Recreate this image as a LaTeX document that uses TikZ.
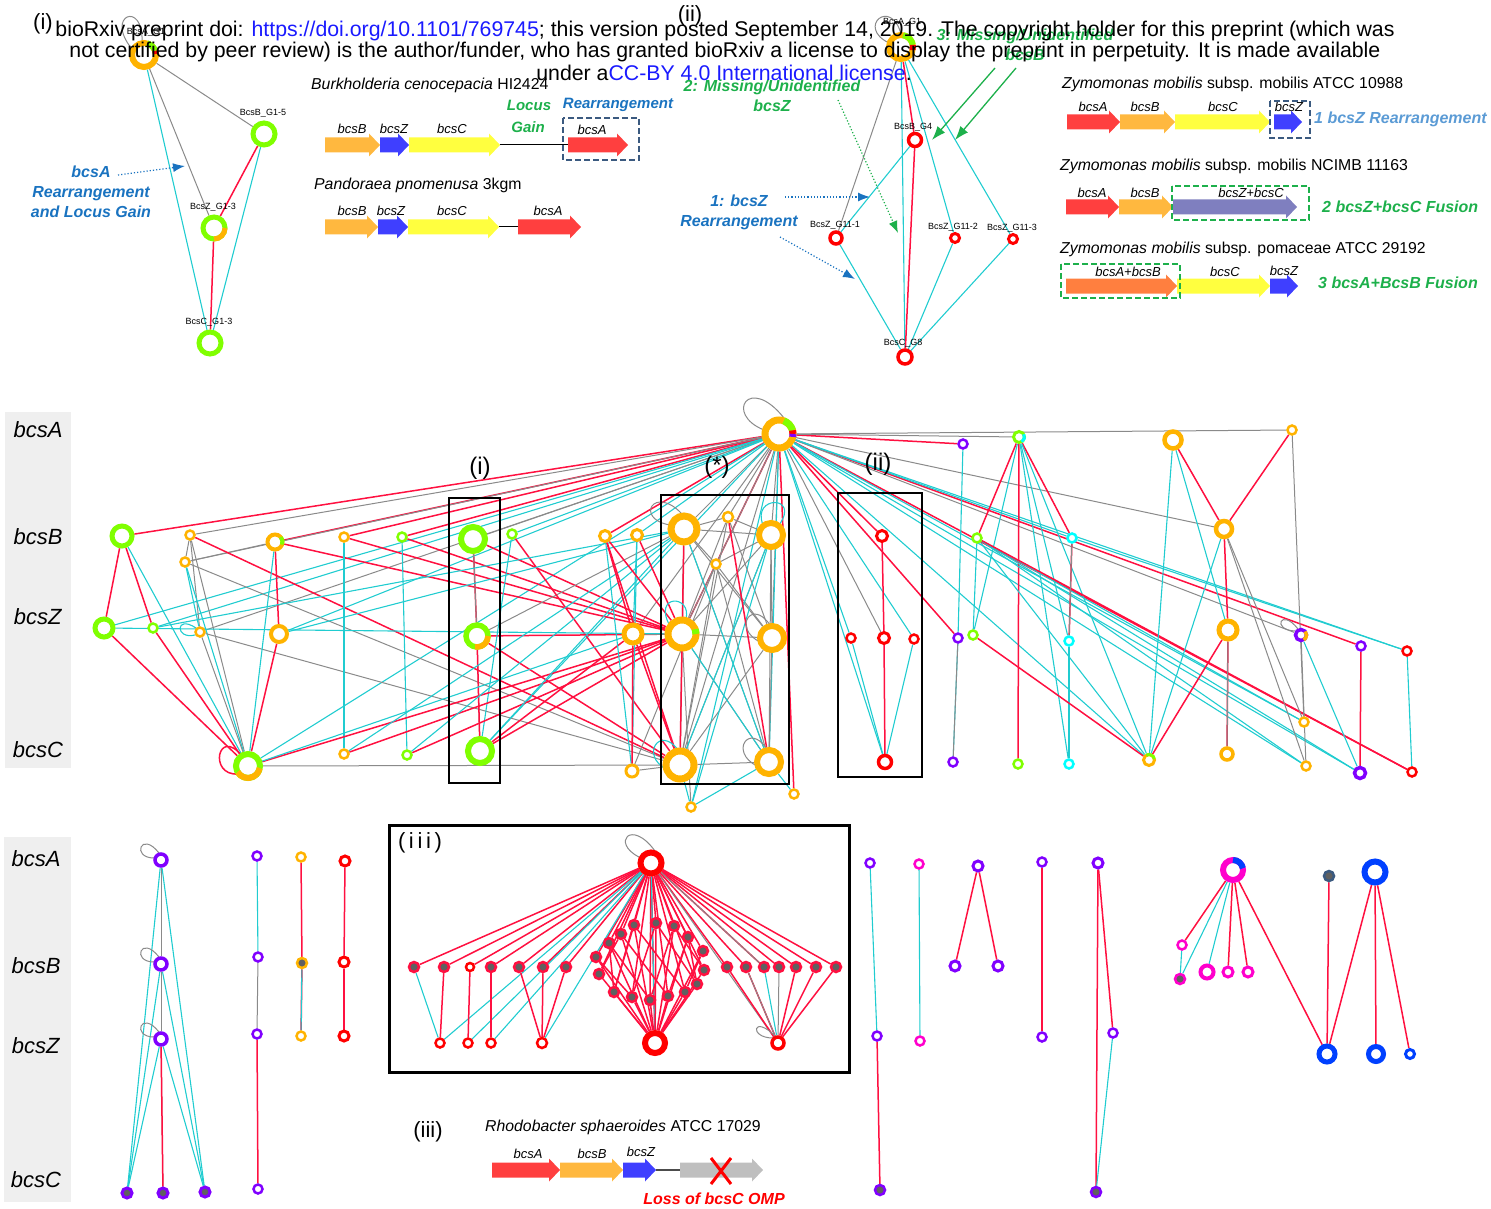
\documentclass[tikz,border=0pt]{standalone}
\usepackage{fontspec}
\setmainfont{Liberation Sans}
\usetikzlibrary{arrows.meta}
\definecolor{cOr}{HTML}{FFB300}
\definecolor{cGr}{HTML}{80FF00}
\definecolor{cRd}{HTML}{FF0000}
\definecolor{cPu}{HTML}{8000FF}
\definecolor{cCy}{HTML}{00FFFF}
\definecolor{cMa}{HTML}{FF00CC}
\definecolor{cBl}{HTML}{0040FF}
\definecolor{eRd}{HTML}{FF1040}
\definecolor{eCy}{HTML}{20CCD0}
\definecolor{eGy}{HTML}{8A8A8A}
\definecolor{gOr}{HTML}{FFB83F}
\definecolor{gBl}{HTML}{3F3FFF}
\definecolor{gYe}{HTML}{FFFF3F}
\definecolor{gRd}{HTML}{FF3F3F}
\definecolor{gPu}{HTML}{7F7FBF}
\definecolor{gOR}{HTML}{FF7F3F}
\definecolor{gGy}{HTML}{BFBFBF}
\definecolor{tBl}{HTML}{1A73C0}
\definecolor{tGr}{HTML}{1DB04B}
\definecolor{tLB}{HTML}{5B9BD5}
\definecolor{bxD}{HTML}{3B5A80}
\definecolor{lnk}{HTML}{1A1AFF}
\definecolor{panel}{HTML}{EFEFEF}
\definecolor{fillg}{HTML}{606060}
\newcommand\FS[1]{\fontsize{#1}{#1}\selectfont}
\pgfdeclarelayer{back}
\pgfdeclarelayer{bg}
\pgfsetlayers{back,bg,main}
\newcommand\rg[6]{\node[circle,draw=#5,line width=#6,fill=white,minimum size=#4,inner sep=0pt] (#1) at (#2,#3) {};}
\newcommand\fd[6]{\node[circle,draw=#5,line width=#6,fill=fillg,minimum size=#4,inner sep=0pt] (#1) at (#2,#3) {};}
\newcommand\seg[6]{\draw[#2,line width=#6] ([shift={(#3:#5pt)}]#1.center) arc (#3:#4:#5pt);}
\newcommand\lp[6]{\draw[#1] ([shift={(#3)}]#2.center) .. controls ([shift={(#4)}]#2.center) and ([shift={(#5)}]#2.center) .. ([shift={(#6)}]#2.center);}
\newcommand\gene[4]{\fill[#4] (#1,#3-7.5) -- (#2-11,#3-7.5) -- (#2-11,#3-11.5) -- (#2,#3) -- (#2-11,#3+11.5) -- (#2-11,#3+7.5) -- (#1,#3+7.5) -- cycle;}
\newcommand\E[3]{\draw[#1] (#2) -- (#3);}
\tikzset{
  er/.style={draw=eRd,line width=1.5pt},
  ec/.style={draw=eCy,line width=1.1pt},
  eg/.style={draw=eGy,line width=1pt},
  txt/.style={inner sep=0pt},
  glab/.style={inner sep=0pt,font=\FS{13}\itshape},
  tiny/.style={inner sep=0pt,font=\FS{9}},
  ann/.style={inner sep=0pt,align=center,font=\FS{16}\bfseries\itshape},
  dbox/.style={dash pattern=on 6pt off 3pt,line width=2.5pt},
  bbox/.style={draw=black,line width=1.3pt},
}
\begin{document}
\begin{tikzpicture}[x=1pt,y=-1pt]
\useasboundingbox (0,0) rectangle (1491,1209);
\begin{pgfonlayer}{back}
\fill[panel] (5,412) rectangle (71,768);
\fill[panel] (4,837) rectangle (71,1202);
\end{pgfonlayer}

% ---------------- row labels
\node[txt] (LA) at (38,430) {\FS{22}\textit{bcsA}};
\node[txt] (LB) at (38,537) {\FS{22}\textit{bcsB}};
\node[txt] (LZ) at (38,617) {\FS{22}\textit{bcsZ}};
\node[txt] (LC) at (38,750) {\FS{22}\textit{bcsC}};
\node[txt] (LA2) at (36,859) {\FS{22}\textit{bcsA}};
\node[txt] (LB2) at (36,966) {\FS{22}\textit{bcsB}};
\node[txt] (LZ2) at (36,1046) {\FS{22}\textit{bcsZ}};
\node[txt] (LC2) at (36,1180) {\FS{22}\textit{bcsC}};

% ---------------- top (i)
\node[txt] (pi) at (43,24) {\FS{22}(i)};
\rg{iA}{144}{55}{24}{cOr}{6pt}
\rg{iB}{264}{134}{22}{cGr}{5pt}
\rg{iZ}{214}{228}{22}{cGr}{5pt}
\rg{iC}{210}{343}{22}{cGr}{5pt}
\seg{iA}{cGr}{20}{75}{12}{6pt}
\seg{iA}{cRd}{5}{20}{12}{6pt}
\seg{iZ}{cOr}{-90}{0}{11}{5pt}
\node[tiny] (liA) at (146,32) {BcsA\_G1};
\node[tiny] (liB) at (263,113) {BcsB\_G1-5};
\node[tiny] (liZ) at (213,207) {BcsZ\_G1-3};
\node[tiny] (liC) at (209,322) {BcsC\_G1-3};
\node[ann,text=tBl] (annI) at (91,192) {bcsA\\[4pt]Rearrangement\\[4pt]and Locus Gain};
\coordinate (aI1) at (118,175);
\coordinate (aI2) at (185,166);

% ---------------- Burkholderia / Pandoraea
\node[txt,anchor=west] (sp1) at (311,85) {\FS{15.8}\textit{Burkholderia cenocepacia} HI2424};
\gene{325}{380}{145}{gOr}
\gene{380}{409}{145}{gBl}
\gene{409}{500}{145}{gYe}
\gene{568}{628}{145}{gRd}
\draw[line width=1pt] (500,145) -- (568,145);
\node[glab] (g1B) at (352,129) {bcsB};
\node[glab] (g1Z) at (394,129) {bcsZ};
\node[glab] (g1C) at (452,129) {bcsC};
\node[glab] (g1A) at (592,130) {bcsA};
\draw[bxD,dbox] (563,118) rectangle (639,160);
\node[txt,text=tGr] (loc1) at (529,105) {\FS{15}\bfseries\itshape Locus};
\node[txt,text=tGr] (loc2) at (528,127) {\FS{15}\bfseries\itshape Gain};
\node[txt,text=tBl] (rea1) at (618,105) {\FS{15}\bfseries\itshape Rearrangement};
\node[txt,anchor=west] (sp2) at (314,185) {\FS{15.8}\textit{Pandoraea pnomenusa} 3kgm};
\gene{325}{378}{227}{gOr}
\gene{378}{408}{227}{gBl}
\gene{408}{499}{227}{gYe}
\draw[line width=1pt] (499,227) -- (518,227);
\gene{518}{581}{227}{gRd}
\node[glab] (g2B) at (352,211) {bcsB};
\node[glab] (g2Z) at (391,211) {bcsZ};
\node[glab] (g2C) at (452,211) {bcsC};
\node[glab] (g2A) at (548,211) {bcsA};

% ---------------- top (ii)
\node[txt] (pii) at (690,16) {\FS{22}(ii)};
\rg{iiA}{901}{47}{24}{cOr}{6pt}
\seg{iiA}{cGr}{10}{80}{12}{6pt}
\seg{iiA}{cRd}{-15}{10}{12}{6pt}
\rg{iiB}{915}{140}{13}{cRd}{3.5pt}
\rg{iiZa}{836}{238}{12}{cRd}{3.5pt}
\rg{iiZb}{955}{238}{9}{cRd}{3pt}
\rg{iiZc}{1013}{239}{9}{cRd}{3pt}
\rg{iiC}{905}{357}{14}{cRd}{3.5pt}
\node[tiny] (liiA) at (902,22) {BcsA\_G1};
\node[tiny] (liiB) at (913,127) {BcsB\_G4};
\node[tiny] (liiZa) at (835,225) {BcsZ\_G11-1};
\node[tiny] (liiZb) at (953,227) {BcsZ\_G11-2};
\node[tiny] (liiZc) at (1012,228) {BcsZ\_G11-3};
\node[tiny] (liiC) at (903,343) {BcsC\_G8};
\node[ann,text=tGr] (ann3) at (1025,45) {3: Missing/Unidentified\\[4pt]bcsB};
\node[ann,text=tGr] (ann2) at (772,96) {2: Missing/Unidentified\\[4pt]bcsZ};
\node[ann,text=tBl] (ann1) at (739,212) {1: bcsZ\\[4pt]Rearrangement};
\coordinate (a3s1) at (995,68); \coordinate (a3e1) at (932,140);
\coordinate (a3s2) at (1016,68); \coordinate (a3e2) at (955,140);
\coordinate (a2s) at (838,100); \coordinate (a2e) at (898,233);
\coordinate (a1s1) at (785,197); \coordinate (a1e1) at (870,197);
\coordinate (a1s2) at (780,237); \coordinate (a1e2) at (855,279);

% ---------------- Zymomonas
\node[txt,anchor=west] (z1t) at (1062,84) {\FS{15.8}\textit{Zymomonas mobilis} subsp. mobilis ATCC 10988};
\gene{1067}{1120}{122}{gRd}
\gene{1120}{1175}{122}{gOr}
\gene{1175}{1270}{122}{gYe}
\gene{1274}{1302}{122}{gBl}
\node[glab] (z1a) at (1093,107) {bcsA};
\node[glab] (z1b) at (1145,107) {bcsB};
\node[glab] (z1c) at (1223,107) {bcsC};
\node[glab] (z1z) at (1289,107) {bcsZ};
\draw[bxD,dbox] (1270,101) rectangle (1310,138);
\node[ann,anchor=west,text=tLB] (z1r) at (1314,119) {1 bcsZ Rearrangement};
\node[txt,anchor=west] (z2t) at (1060,166) {\FS{15.8}\textit{Zymomonas mobilis} subsp. mobilis NCIMB 11163};
\gene{1066}{1119}{207}{gRd}
\gene{1119}{1173}{207}{gOr}
\gene{1173}{1297}{207}{gPu}
\node[glab] (z2a) at (1092,193) {bcsA};
\node[glab] (z2b) at (1145,193) {bcsB};
\node[glab] (z2c) at (1251,193) {bcsZ+bcsC};
\draw[tGr,dbox] (1172,186) rectangle (1309,220);
\node[ann,anchor=west,text=tGr] (z2r) at (1322,207) {2 bcsZ+bcsC Fusion};
\node[txt,anchor=west] (z3t) at (1060,249) {\FS{15.8}\textit{Zymomonas mobilis} subsp. pomaceae ATCC 29192};
\gene{1066}{1177}{286}{gOR}
\gene{1177}{1270}{286}{gYe}
\gene{1270}{1298}{286}{gBl}
\node[glab] (z3a) at (1128,272) {bcsA+bcsB};
\node[glab] (z3c) at (1225,272) {bcsC};
\node[glab] (z3z) at (1284,271) {bcsZ};
\draw[tGr,dbox] (1061,264) rectangle (1180,298);
\node[ann,anchor=west,text=tGr] (z3r) at (1318,283) {3 bcsA+BcsB Fusion};

% ---------------- middle network nodes
\rg{H}{779}{434}{28}{cOr}{7pt}
\rg{b1}{122}{536}{20}{cGr}{5pt}
\rg{b2}{190}{535}{9}{cOr}{2.5pt}
\rg{b3}{275}{542}{15}{cOr}{4pt}
\rg{b4}{344}{537}{9}{cOr}{2.5pt}
\rg{b5}{402}{537}{9}{cGr}{2.5pt}
\rg{b6}{473}{539}{24}{cGr}{6pt}
\rg{b7}{512}{534}{9}{cGr}{2.5pt}
\rg{b8}{185}{562}{9}{cOr}{2.5pt}
\rg{z1}{104}{628}{18}{cGr}{5pt}
\rg{z2}{153}{628}{9}{cGr}{2.5pt}
\rg{z3}{200}{632}{9}{cOr}{2.5pt}
\rg{z4}{279}{634}{16}{cOr}{4pt}
\rg{z5}{477}{636}{22}{cGr}{5.5pt}
\rg{c1}{248}{766}{24}{cGr}{6pt}
\rg{c2}{344}{754}{9}{cOr}{2.5pt}
\rg{c3}{407}{755}{9}{cGr}{2.5pt}
\rg{c4}{480}{751}{24}{cGr}{6pt}
\rg{s1}{605}{536}{11}{cOr}{3pt}
\rg{s2}{637}{535}{11}{cOr}{3pt}
\rg{s3}{684}{529}{26}{cOr}{7pt}
\rg{s4}{728}{517}{10}{cOr}{2.5pt}
\rg{s5}{771}{535}{24}{cOr}{6pt}
\rg{s6}{716}{564}{9}{cOr}{2.5pt}
\rg{s7}{633}{634}{18}{cOr}{5pt}
\rg{s8}{682}{634}{28}{cOr}{7pt}
\rg{s9}{772}{638}{24}{cOr}{6pt}
\rg{s10}{632}{771}{12}{cOr}{3pt}
\rg{s11}{680}{765}{28}{cOr}{7pt}
\rg{s12}{769}{762}{24}{cOr}{6pt}
\rg{s13}{691}{807}{9}{cOr}{2.5pt}
\rg{s14}{794}{794}{9}{cOr}{2.5pt}
\rg{r1}{882}{536}{11}{cRd}{3pt}
\rg{r2}{851}{638}{9}{cRd}{2.5pt}
\rg{r3}{884}{638}{11}{cRd}{3pt}
\rg{r4}{914}{639}{9}{cRd}{2.5pt}
\rg{r5}{885}{762}{13}{cRd}{3.5pt}
\rg{q1}{963}{444}{9}{cPu}{2.5pt}
\rg{q2}{1019}{437}{11}{cGr}{3pt}
\rg{q3}{1173}{440}{17}{cOr}{4.5pt}
\rg{q4}{1292}{430}{9}{cOr}{2.5pt}
\rg{q5}{977}{538}{9}{cGr}{2.5pt}
\rg{q6}{1072}{538}{9}{cCy}{2.5pt}
\rg{q7}{1224}{529}{16}{cOr}{4.5pt}
\rg{q8}{958}{638}{9}{cPu}{2.5pt}
\rg{q9}{973}{635}{9}{cGr}{2.5pt}
\rg{q10}{1069}{641}{9}{cCy}{2.5pt}
\rg{q11}{1228}{630}{18}{cOr}{5pt}
\rg{q12}{1301}{635}{11}{cPu}{3.5pt}
\rg{q13}{1361}{646}{9}{cPu}{2.5pt}
\rg{q14}{1407}{651}{9}{cRd}{2.5pt}
\rg{q15}{1304}{722}{9}{cOr}{2.5pt}
\rg{q16}{953}{762}{9}{cPu}{2.5pt}
\rg{q17}{1018}{764}{9}{cGr}{2.5pt}
\rg{q18}{1069}{764}{9}{cCy}{2.5pt}
\rg{q19}{1149}{760}{11}{cOr}{3pt}
\rg{q20}{1227}{754}{12}{cOr}{3.5pt}
\rg{q21}{1306}{766}{9}{cOr}{2.5pt}
\rg{q22}{1360}{773}{11}{cPu}{3.5pt}
\rg{q23}{1412}{772}{9}{cRd}{2.5pt}
\seg{H}{cGr}{15}{70}{14}{7pt}
\seg{H}{cRd}{0}{15}{14}{7pt}
\seg{H}{cPu}{-12}{0}{14}{7pt}
\seg{b3}{cGr}{-20}{40}{7.5}{4pt}
\seg{z5}{cOr}{-100}{0}{11}{5.5pt}
\seg{c1}{cOr}{-150}{-10}{12}{6pt}
\seg{s8}{cGr}{0}{20}{14}{7pt}
\seg{q2}{cCy}{-60}{30}{5.5}{3pt}
\seg{q12}{cOr}{-60}{40}{5.5}{3.5pt}
\seg{q19}{cGr}{10}{120}{5.5}{3pt}
\node[txt] (pI) at (480,468) {\FS{24}(i)};
\node[txt] (pS) at (717,467) {\FS{24}(*)};
\node[txt] (pII) at (878,464) {\FS{24}(ii)};

% ---------------- bottom left nodes
\rg{p1}{161}{860}{12}{cPu}{3.5pt}
\rg{p2}{161}{964}{12}{cPu}{3.5pt}
\rg{p3}{161}{1039}{12}{cPu}{3.5pt}
\fd{f1}{127}{1193}{10}{cPu}{3pt}
\fd{f2}{163}{1193}{10}{cPu}{3pt}
\fd{f3}{205}{1192}{10}{cPu}{3pt}
\rg{p4}{257}{856}{9}{cPu}{2.5pt}
\rg{p5}{258}{957}{9}{cPu}{2.5pt}
\rg{p6}{257}{1034}{9}{cPu}{2.5pt}
\rg{p7}{258}{1189}{9}{cPu}{2.5pt}
\rg{o1}{301}{857}{9}{cOr}{2.5pt}
\fd{o2}{302}{963}{10}{cOr}{2.5pt}
\rg{o3}{301}{1036}{9}{cOr}{2.5pt}
\rg{k1}{345}{861}{10}{cRd}{3pt}
\rg{k2}{344}{962}{10}{cRd}{3pt}
\rg{k3}{344}{1036}{10}{cRd}{3pt}

% ---------------- (iii) box nodes
\node[txt] (piii) at (420,843) {\FS{22}(\,i\,i\,i\,)};
\rg{T}{651}{863}{21}{cRd}{6pt}
\rg{Bt}{655}{1043}{20}{cRd}{6pt}
\foreach \n/\x in {g1/414,g2/444,g3/491,g4/519,g5/543,g6/566,g7/727,g8/746,g9/764,g10/779,g11/796,g12/816,g13/836}{
  \fd{\n}{\x}{967}{10}{eRd}{2.5pt}
}
\rg{w1}{470}{967}{8}{cRd}{2.5pt}
\foreach \n/\x/\y in {U1/596/957,U2/609/943,U3/621/934,U4/634/925,U5/656/923,U6/674/926,U7/688/937,U8/703/951,L1/599/974,L2/614/992,L3/632/997,L4/650/1000,L5/668/996,L6/685/992,L7/697/984,L8/704/970}{
  \fd{\n}{\x}{\y}{10}{eRd}{2.5pt}
}
\rg{u1}{440}{1043}{9}{cRd}{2.5pt}
\rg{u2}{468}{1043}{9}{cRd}{2.5pt}
\rg{u3}{491}{1043}{9}{cRd}{2.5pt}
\rg{u4}{542}{1043}{10}{cRd}{2.5pt}
\rg{u5}{778}{1043}{12}{cRd}{3.5pt}

% ---------------- bottom right nodes
\rg{m1}{870}{863}{9}{cPu}{2.5pt}
\rg{m2}{877}{1036}{9}{cPu}{2.5pt}
\fd{m3}{880}{1190}{10}{cPu}{2.5pt}
\rg{m4}{919}{864}{9}{cMa}{2.5pt}
\rg{m5}{920}{1041}{9}{cMa}{2.5pt}
\rg{m6}{978}{866}{10}{cPu}{3pt}
\rg{m7}{955}{966}{10}{cPu}{3pt}
\rg{m8}{998}{966}{10}{cPu}{3pt}
\rg{m9}{1042}{862}{9}{cPu}{2.5pt}
\rg{m10}{1042}{1037}{9}{cPu}{2.5pt}
\rg{m11}{1098}{863}{10}{cPu}{3pt}
\rg{m12}{1113}{1033}{9}{cPu}{2.5pt}
\fd{m13}{1096}{1192}{10}{cPu}{2.5pt}
\rg{M}{1233}{870}{20}{cMa}{6pt}
\seg{M}{cBl}{10}{90}{10}{6pt}
\rg{m14}{1182}{945}{9}{cMa}{2.5pt}
\fd{m15}{1180}{979}{10}{cMa}{2.5pt}
\rg{m16}{1207}{972}{13}{cMa}{4pt}
\rg{m17}{1228}{972}{10}{cMa}{3pt}
\rg{m18}{1248}{972}{10}{cMa}{3pt}
\fd{m19}{1329}{876}{10}{bxD}{2.5pt}
\rg{BB}{1375}{872}{21}{cBl}{6pt}
\rg{m20}{1327}{1054}{16}{cBl}{5pt}
\rg{m21}{1376}{1054}{15}{cBl}{5pt}
\rg{m22}{1410}{1054}{9}{cBl}{3pt}

% ---------------- Rhodobacter
\node[txt] (piii2) at (428,1132) {\FS{22}(iii)};
\node[txt,anchor=west] (rt) at (485,1127) {\FS{15.8}\textit{Rhodobacter sphaeroides} ATCC 17029};
\gene{492}{560}{1170}{gRd}
\gene{560}{623}{1170}{gOr}
\gene{623}{656}{1170}{gBl}
\draw[line width=1.2pt,draw=black!70] (656,1170) -- (680,1170);
\gene{680}{763}{1170}{gGy}
\node[glab] (r3a) at (528,1154) {bcsA};
\node[glab] (r3b) at (592,1154) {bcsB};
\node[glab] (r3z) at (641,1152) {bcsZ};
\coordinate (x1) at (711,1158); \coordinate (x2) at (731,1184);
\coordinate (x3) at (731,1158); \coordinate (x4) at (711,1184);
\draw[cRd,line width=3pt] (x1) -- (x2);
\draw[cRd,line width=3pt] (x3) -- (x4);
\node[ann,text=cRd] (loss) at (714,1199) {Loss of bcsC OMP};

% ================= edges (background)
\begin{pgfonlayer}{bg}
% top (i)
\E{eg}{iA}{iB} \E{eg}{iA}{iZ} \E{ec}{iA}{iC}
\E{er}{iB}{iZ} \E{ec}{iB}{iC} \E{er}{iZ}{iC}
\lp{eg}{iA}{-12,-6}{-40,-40}{0,-55}{-2,-13}
% top (ii)
\E{er}{iiA}{iiB} \E{eg}{iiA}{iiZa} \E{ec}{iiA}{iiC} \E{ec}{iiA}{iiZb} \E{ec}{iiA}{iiZc}
\E{er}{iiB}{iiC} \E{ec}{iiB}{iiZa} \E{ec}{iiZa}{iiC} \E{ec}{iiZb}{iiC} \E{ec}{iiZc}{iiC}
\lp{eg}{iiA}{-12,-4}{-45,-20}{-10,-50}{0,-13}
% hub edges
\foreach \t in {b1,b3,b4,b5,s1,s8,r1,q1,q8,q13,q23,s14}{\draw[er] (H) -- (\t);}
\foreach \t in {b2,b6,z3,s3,s4,s5,s6,s9,s11,q4,q7,q12,r3,s7,b8}{\draw[eg] (H) -- (\t);}
\foreach \t in {z1,z2,z4,b7,s2,s12,s13,r2,r4,r5,q14,q15,q21,q22,q19,q6,c4,c1}{\draw[ec] (H) -- (\t);}
\lp{eg}{H}{-15,-4}{-55,-20}{-30,-60}{5,-16}
% left block
\E{er}{b1}{z1} \E{er}{b1}{z2} \E{er}{z1}{c1} \E{er}{z2}{c1} \E{ec}{b1}{c1}
\E{eg}{b2}{b8} \E{eg}{b2}{z3} \E{eg}{b2}{c1} \E{ec}{b8}{c1} \E{ec}{b8}{z3} \E{eg}{z3}{c1}
\E{eg}{b8}{b3} \E{eg}{b8}{s11} \E{eg}{z3}{s11}
\E{er}{b2}{s11}
\E{er}{b3}{z4} \E{ec}{b3}{c1} \E{er}{z4}{c1} \E{er}{b3}{s8}
\E{ec}{b4}{c2} \E{er}{b4}{s8}
\E{ec}{b5}{c3} \E{er}{b5}{s8}
\E{er}{b6}{z5} \E{eg}{b6}{z5} \E{er}{b6}{s8}
\E{eg}{z5}{c4} \E{er}{z5}{c4} \E{er}{z5}{s11} \E{eg}{z5}{s3} \E{er}{z5}{s8}
\E{ec}{b7}{c4} \E{er}{b7}{s11}
\E{ec}{z1}{s8} \E{ec}{z2}{s3} \E{ec}{z4}{s3}
\E{eg}{c1}{s11} \E{er}{c1}{s8} \E{ec}{c1}{s7}
\E{er}{c2}{s8} \E{ec}{c2}{s3}
\E{er}{c3}{s8} \E{ec}{c3}{s3}
\E{er}{c4}{s8} \E{ec}{c4}{s3} \E{er}{c4}{s7}
\lp{er}{c1}{-10,8}{-40,10}{-30,-40}{-6,-10}
\lp{ec}{z3}{-5,3}{-25,8}{-25,-18}{-4,-4}
% (*) block
\foreach \a/\b in {s3/s5,s3/s8,s3/s9,s3/s11,s3/s12,s3/s6,s5/s8,s5/s9,s5/s11,s5/s12,s4/s8,s4/s11,s6/s11,s6/s12,s6/s9,s8/s9,s8/s11,s8/s12,s9/s11,s9/s12,s11/s12,s4/s9,s6/s8,s5/s6,s7/s8,s10/s11,s13/s8,s3/s4,s4/s5,s6/s10}{\draw[eg] (\a) -- (\b);}
\foreach \a/\b in {s13/s12,s13/s11,s13/s5,s14/s12,s2/s10,s1/s10,s8/s12,s3/s12,s5/s11,s2/s7}{\draw[ec] (\a) -- (\b);}
\foreach \a/\b in {s1/s7,s1/s8,s2/s8,s7/s10,s7/s11,s4/s12,s3/s11,s1/s11}{\draw[er] (\a) -- (\b);}
\lp{ec}{s8}{-12,-8}{-30,-40}{10,-40}{4,-15}
\lp{ec}{s11}{-14,4}{-40,-10}{-20,-40}{-2,-15}
\lp{eg}{s12}{-12,4}{-40,-10}{-20,-40}{-2,-13}
\lp{eg}{s9}{-12,4}{-40,-10}{-20,-40}{-2,-13}
\lp{ec}{s5}{-8,-10}{-20,-40}{30,-40}{8,-10}
\lp{eg}{s3}{-14,-4}{-50,-10}{-30,-45}{-2,-15}
% (ii) block
\E{er}{r1}{r3} \E{er}{r3}{r5} \E{ec}{r2}{r5} \E{ec}{r4}{r5}
% right block
\E{ec}{q1}{q8} \E{ec}{q8}{q16} \E{eg}{q8}{q16}
\E{er}{q2}{q5} \E{er}{q2}{q17} \E{er}{q2}{q6} \E{ec}{q2}{q9} \E{ec}{q2}{q10} \E{ec}{q2}{q19} \E{ec}{q2}{q18}
\E{ec}{q5}{q9} \E{ec}{q5}{q19} \E{ec}{q5}{q15} \E{ec}{q5}{q21} \E{ec}{q5}{q22} \E{er}{q5}{q23}
\E{er}{q6}{q10} \E{eg}{q6}{q10} \E{ec}{q10}{q18} \E{ec}{q6}{q14}
\E{er}{q9}{q19}
\E{er}{q3}{q7} \E{ec}{q3}{q19} \E{ec}{q3}{q11}
\E{er}{q4}{q7} \E{eg}{q4}{q15}
\E{er}{q7}{q11} \E{ec}{q7}{q19} \E{eg}{q7}{q21} \E{eg}{q7}{q15}
\E{er}{q11}{q20} \E{eg}{q11}{q20} \E{er}{q11}{q19}
\E{eg}{q12}{q21} \E{ec}{q12}{q22} \E{er}{q13}{q22} \E{ec}{q14}{q23}
\E{eg}{H}{q2}
\lp{eg}{q12}{-6,-4}{-30,-5}{-20,-28}{-3,-6}
% boxes
\draw[bbox] (449,498) rectangle (500,783);
\draw[bbox] (661,495) rectangle (789,784);
\draw[bbox] (838,493) rectangle (922,777);
% bottom left
\E{eg}{p1}{p2} \E{eg}{p2}{p3}
\E{ec}{p1}{f1} \E{ec}{p1}{f3} \E{ec}{p2}{f1} \E{ec}{p2}{f3} \E{ec}{p3}{f1} \E{ec}{p3}{f3}
\E{eg}{p3}{f2} \E{er}{p3}{f2}
\lp{eg}{p1}{-7,-2}{-30,-2}{-20,-30}{-2,-7}
\lp{eg}{p2}{-7,-2}{-30,-2}{-20,-30}{-2,-7}
\lp{eg}{p3}{-7,-2}{-30,-2}{-20,-30}{-2,-7}
\E{ec}{p4}{p5} \E{eg}{p5}{p6} \E{er}{p6}{p7}
\E{er}{o1}{o2} \E{er}{o2}{o3} \E{ec}{o2}{o3}
\E{er}{k1}{k2} \E{er}{k2}{k3}
% (iii) box
\foreach \t in {g1,g2,g3,g4,g5,g6,g7,g8,g9,g10,g11,g12,g13,w1,U1,U2,U3,U4,U5,U6,U7,U8,L1,L2,L3,L4,L5,L6,L7,L8,Bt}{\draw[er] (T) -- (\t);}
\foreach \t in {u1,u2,u3,u4,Bt}{\draw[ec] (T) -- (\t);}
\foreach \t in {u5,g9}{\draw[eg] (T) -- (\t);}
\foreach \t in {U1,U2,U3,U4,U5,U6,U7,U8,L1,L2,L3,L4,L5,L6,L7,L8}{\draw[er] (Bt) -- (\t);}
\foreach \a/\b in {U1/L3,U2/L4,U3/L5,U4/L6,U5/L7,U6/L8,U3/L1,U4/L2,U5/L3,U6/L4,U7/L5,U8/L6,U2/L2,U7/L7}{\draw[er] (\a) -- (\b);}
\E{ec}{u1}{g1} \E{er}{u1}{g2} \E{er}{u2}{w1} \E{er}{u3}{g3}
\E{er}{u4}{g4} \E{er}{u4}{g5} \E{er}{u4}{g6}
\foreach \t in {g7,g8,g11,g12,g13}{\draw[er] (u5) -- (\t);}
\E{eg}{u5}{g8} \E{ec}{u5}{g9} \E{eg}{u5}{g10}
\lp{eg}{T}{-12,-6}{-40,-20}{-20,-45}{4,-12}
\lp{eg}{u5}{-5,-5}{-30,-5}{-25,-30}{-2,-6}
\draw[line width=3pt] (389,825) rectangle (849,1072);
% bottom right
\E{ec}{m1}{m2} \E{er}{m2}{m3} \E{ec}{m4}{m5}
\E{er}{m6}{m7} \E{er}{m6}{m8} \E{er}{m9}{m10}
\E{er}{m11}{m13} \E{er}{m11}{m12} \E{ec}{m12}{m13}
\E{er}{M}{m14} \E{ec}{M}{m15} \E{ec}{M}{m16} \E{er}{M}{m17} \E{er}{M}{m18} \E{er}{M}{m20}
\E{ec}{m14}{m15}
\E{er}{m19}{m20} \E{er}{BB}{m20} \E{er}{BB}{m21} \E{er}{BB}{m22}
\end{pgfonlayer}

% annotation arrows
\draw[tBl,dotted,line width=1.2pt,-{Latex[length=12pt,width=9pt]}] (aI1) -- (aI2);
\draw[tGr,line width=1.3pt,-{Latex[length=14pt,width=10pt]}] (a3s1) -- (a3e1);
\draw[tGr,line width=1.3pt,-{Latex[length=14pt,width=10pt]}] (a3s2) -- (a3e2);
\draw[tGr,dotted,line width=1.2pt,-{Latex[length=12pt,width=9pt]}] (a2s) -- (a2e);
\draw[tBl,dotted,line width=1.2pt,-{Latex[length=12pt,width=9pt]}] (a1s1) -- (a1e1);
\draw[tBl,dotted,line width=1.2pt,-{Latex[length=12pt,width=9pt]}] (a1s2) -- (a1e2);

% header (watermark)
\node[txt] (hd1) at (725,31) {\FS{21.3}bioRxiv preprint doi: \textcolor{lnk}{https://doi.org/10.1101/769745}; this version posted September 14, 2019. The copyright holder for this preprint (which was};
\node[txt] (hd2) at (725,52) {\FS{21.3}not certified by peer review) is the author/funder, who has granted bioRxiv a license to display the preprint in perpetuity. It is made available};
\node[txt] (hd3) at (724,73) {\FS{21.3}under a\textcolor{lnk}{CC-BY 4.0 International license}.};
\end{tikzpicture}
\end{document}
